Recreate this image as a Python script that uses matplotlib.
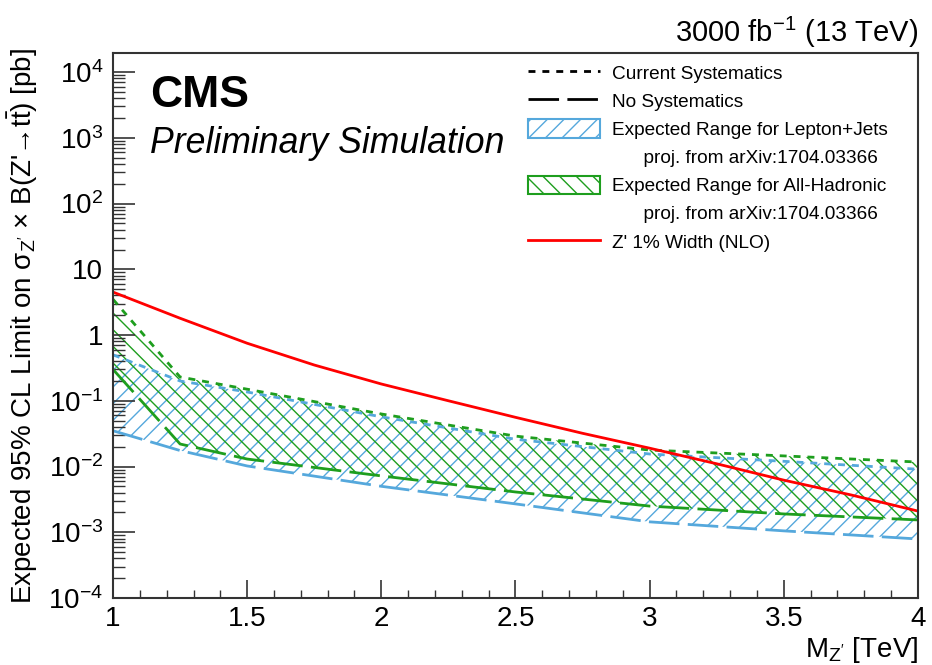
import matplotlib
matplotlib.use("Agg")
import matplotlib.pyplot as plt
from matplotlib.lines import Line2D
from matplotlib.patches import Patch
from matplotlib.ticker import FixedLocator, FixedFormatter, MultipleLocator, LogLocator, NullFormatter
import numpy as np

plt.rcParams['font.family'] = ['Liberation Sans', 'DejaVu Sans']
plt.rcParams['mathtext.fontset'] = 'custom'
plt.rcParams['mathtext.rm'] = 'Liberation Sans'
plt.rcParams['mathtext.it'] = 'Liberation Sans:italic'
plt.rcParams['mathtext.bf'] = 'Liberation Sans:bold'
plt.rcParams['mathtext.sf'] = 'Liberation Sans'
plt.rcParams['axes.unicode_minus'] = False
plt.rcParams['hatch.linewidth'] = 1.0
plt.rcParams['lines.scale_dashes'] = False

# ---- data ----
mass = [1.0, 1.25, 1.5, 2.0, 2.5, 3.0, 3.5, 4.0]
lj_current = [0.50, 0.20, 0.136, 0.057, 0.026, 0.0155, 0.012, 0.0091]
lj_nosyst = [0.035, 0.0175, 0.0102, 0.0050, 0.0027, 0.00144, 0.00105, 0.00079]
ah_current = [3.5, 0.23, 0.15, 0.063, 0.029, 0.0178, 0.0145, 0.0117]
ah_nosyst = [0.30, 0.022, 0.013, 0.0072, 0.0041, 0.0025, 0.0019, 0.00154]

zp_mass = [1.0, 1.25, 1.5, 1.75, 2.0, 2.25, 2.5, 2.75, 3.0, 3.25, 3.5, 3.75, 4.0]
zp_xsec = [4.5, 1.8, 0.75, 0.35, 0.18, 0.10, 0.056, 0.032, 0.019, 0.011, 0.0062, 0.0037, 0.0021]

ytick_vals = [1e-4, 1e-3, 1e-2, 1e-1, 1, 10, 1e2, 1e3, 1e4]
ytick_labels = [r'$10^{-4}$', r'$10^{-3}$', r'$10^{-2}$', r'$10^{-1}$', '1', '10',
                r'$10^{2}$', r'$10^{3}$', r'$10^{4}$']
xtick_vals = [1, 1.5, 2, 2.5, 3, 3.5, 4]
xtick_labels = ['1', '1.5', '2', '2.5', '3', '3.5', '4']

blue = '#55a8dc'
green = '#1e9e1e'
red = '#ff0000'
short_d = (5, 5)
long_d = (22, 6)

fig = plt.figure(figsize=(9.32, 6.65), dpi=100)
ax = fig.add_axes([113/932, 1 - 598/665, (918-113)/932, (598-53)/665])

ax.fill_between(mass, lj_nosyst, lj_current, facecolor='none', edgecolor=blue,
                hatch='//', linewidth=0)
ax.fill_between(mass, ah_nosyst, ah_current, facecolor='none', edgecolor=green,
                hatch='\\\\', linewidth=0)
ax.plot(mass, lj_current, color=blue, lw=2.0, dashes=short_d)
ax.plot(mass, lj_nosyst, color=blue, lw=2.0, dashes=long_d)
ax.plot(mass, ah_current, color=green, lw=2.0, dashes=short_d)
ax.plot(mass, ah_nosyst, color=green, lw=2.0, dashes=long_d)
ax.plot(zp_mass, zp_xsec, color=red, lw=2.0)

ax.set_yscale('log')
ax.set_xlim(1, 4)
ax.set_ylim(1e-4, 1.95e4)

ax.yaxis.set_major_locator(FixedLocator(ytick_vals))
ax.yaxis.set_major_formatter(FixedFormatter(ytick_labels))
ax.yaxis.set_minor_locator(LogLocator(base=10, subs=np.arange(2, 10), numticks=30))
ax.yaxis.set_minor_formatter(NullFormatter())
ax.xaxis.set_major_locator(FixedLocator(xtick_vals))
ax.xaxis.set_major_formatter(FixedFormatter(xtick_labels))
ax.xaxis.set_minor_locator(MultipleLocator(0.1))

ax.tick_params(which='both', direction='in', top=False, right=False, labelsize=20,
               color='#333333')
ax.tick_params(axis='y', which='major', length=16, width=1.2, pad=7)
ax.tick_params(axis='y', which='minor', length=8.5, width=1.0)
ax.tick_params(axis='x', which='major', length=13, width=1.2, pad=6)
ax.tick_params(axis='x', which='minor', length=6, width=1.0)
for s in ax.spines.values():
    s.set_linewidth(1.5)
    s.set_color('#333333')

ax.set_ylabel("Expected 95% CL Limit on σ$_{\\mathrm{Z'}}$ × B(Z'→t$\\bar{\\mathrm{t}}$) [pb]",
              fontsize=20, labelpad=6)
ax.set_xlabel(r"M$_{\mathrm{Z'}}$ [TeV]", fontsize=20, loc='right', labelpad=2)

ax.text(1.0, 1 + 11/545, r"3000 fb$^{-1}$ (13 TeV)", transform=ax.transAxes,
        ha='right', va='baseline', fontsize=21)
ax.text(37/805, (598-107)/545, "CMS", transform=ax.transAxes, ha='left', va='baseline',
        fontsize=32, fontweight='bold')
ax.text(37/805, (598-153)/545, "Preliminary Simulation", transform=ax.transAxes,
        ha='left', va='baseline', fontsize=25.7, fontstyle='italic')

blank = Patch(facecolor='none', edgecolor='none', linewidth=0)
handles = [
    Line2D([], [], color='k', lw=2, dashes=(5, 5)),
    Line2D([], [], color='k', lw=2, dashes=(22, 6)),
    Patch(facecolor='none', edgecolor=blue, hatch='//', linewidth=1.5),
    blank,
    Patch(facecolor='none', edgecolor=green, hatch='\\\\', linewidth=1.5),
    blank,
    Line2D([], [], color=red, lw=2),
]
labels = [
    "Current Systematics",
    "No Systematics",
    "Expected Range for Lepton+Jets",
    "      proj. from arXiv:1704.03366",
    "Expected Range for All-Hadronic",
    "      proj. from arXiv:1704.03366",
    "Z' 1% Width (NLO)",
]
ax.legend(handles, labels, loc='upper left', bbox_to_anchor=((528-113)/805, (598-63)/545),
          frameon=False, fontsize=13.7, handlelength=3.8, handleheight=1.1,
          handletextpad=0.6, labelspacing=0.45, borderpad=0, borderaxespad=0)

fig.savefig('out.png', dpi=100)
